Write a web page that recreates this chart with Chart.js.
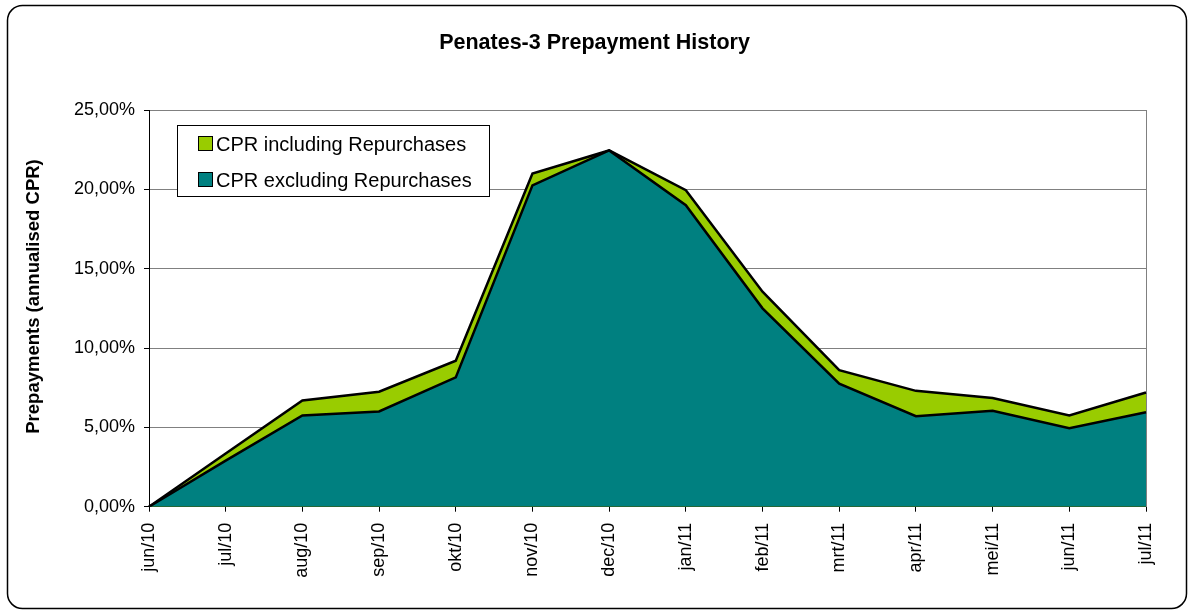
<!DOCTYPE html>
<html>
<head>
<meta charset="utf-8">
<script src="https://cdn.jsdelivr.net/npm/chart.js@4/dist/chart.umd.min.js"></script>
<style>
  body { margin: 0; background: #fff; }
  #wrap { width: 1189px; height: 612px; }
</style>
</head>
<body>
<div id="wrap"><canvas id="myChart" width="1189" height="612"></canvas></div>
<script>
let months = ["jun/10","jul/10","aug/10","sep/10","okt/10","nov/10","dec/10","jan/11","feb/11","mrt/11","apr/11","mei/11","jun/11","jul/11"];
let cprIncl = [0, 3.35, 6.7, 7.25, 9.2, 21.0, 22.45, 19.95, 13.55, 8.6, 7.3, 6.85, 5.75, 7.2];
let cprExcl = [0, 2.9, 5.75, 6.0, 8.15, 20.25, 22.45, 19.0, 12.5, 7.75, 5.7, 6.05, 4.95, 5.95];
let yTicks = [0, 5, 10, 15, 20, 25];
let yTitle = "Prepayments (annualised CPR)";

let fontFamily = "Arial, 'Liberation Sans', sans-serif";

function pct(v){
    return v.toFixed(2).replace(".", ",") + "%";
}

// white background + rounded outer frame, y title and legend box
let frame = {
    id: "frame",
    beforeDraw(chart){
        let c = chart.ctx;
        c.save();
        c.fillStyle = "#fff";
        c.fillRect(0, 0, chart.width, chart.height);
        c.beginPath();
        c.roundRect(7.5, 5.5, 1179, 603, 15);
        c.lineWidth = 1.5;
        c.strokeStyle = "#000";
        c.stroke();

        // axis title sits a bit above the middle of the plot, like the original
        c.translate(34, 296.5);
        c.rotate(-Math.PI / 2);
        c.font = "bold 18.5px " + fontFamily;
        c.fillStyle = "#000";
        c.textAlign = "center";
        c.textBaseline = "middle";
        c.fillText(yTitle, 0, 0);
        c.restore();
    },
    afterDraw(chart){
        let c = chart.ctx;
        let ds = chart.data.datasets;
        c.save();
        c.fillStyle = "#fff";
        c.fillRect(177.5, 125.5, 312, 71);
        c.strokeStyle = "#000";
        c.lineWidth = 1;
        c.strokeRect(177.5, 125.5, 312, 71);
        c.font = "20px " + fontFamily;
        c.textBaseline = "middle";
        for(let i = 0; i < ds.length; i++){
            let y = 144 + i * 36;
            c.fillStyle = ds[i].backgroundColor;
            c.fillRect(198.5, y - 7.5, 14, 14);
            c.strokeRect(198.5, y - 7.5, 14, 14);
            c.fillStyle = "#000";
            c.fillText(ds[i].label, 216, y + 1);
        }
        c.restore();
    }
};

let ctx = document.getElementById("myChart").getContext("2d");
let myChart = new Chart(ctx, {
    type: "line",
    data: {
        labels: months,
        datasets: [{
            label: "CPR including Repurchases",
            data: cprIncl,
            backgroundColor: "#99CC00",
            borderColor: "#000",
            borderWidth: 2.5,
            fill: "origin",
            pointRadius: 0,
            tension: 0,
            order: 2
        },{
            label: "CPR excluding Repurchases",
            data: cprExcl,
            backgroundColor: "#008080",
            borderColor: "#000",
            borderWidth: 2.5,
            fill: "origin",
            pointRadius: 0,
            tension: 0,
            order: 1
        }]
    },
    options: {
        responsive: false,
        animation: false,
        layout: { padding: 0 },
        plugins: {
            legend: { display: false },
            tooltip: { enabled: false },
            title: {
                display: true,
                text: "Penates-3 Prepayment History",
                color: "#000",
                font: { family: fontFamily, size: 21.5, weight: "bold", lineHeight: 1.2 },
                padding: { top: 30, bottom: 54.2 }
            }
        },
        scales: {
            x: {
                offset: false,
                grid: { display: true, drawOnChartArea: false, drawTicks: true, tickLength: 5, tickColor: "#000" },
                border: { display: true, color: "#000", width: 1 },
                ticks: {
                    autoSkip: false,
                    minRotation: 90,
                    maxRotation: 90,
                    padding: 11,
                    color: "#000",
                    font: { family: fontFamily, size: 18 }
                },
                afterFit(s){ s.height = 105.3; }
            },
            y: {
                min: 0,
                max: 25,
                afterBuildTicks(s){ s.ticks = yTicks.map(v => ({ value: v })); },
                grid: { color: "#808080", tickLength: 5, tickColor: "#000" },
                border: { display: true, color: "#000", width: 1 },
                ticks: {
                    padding: 9,
                    color: "#000",
                    font: { family: fontFamily, size: 18 },
                    callback: (v) => pct(v)
                },
                afterFit(s){ s.width = 149; }
            },
            y2: {
                position: "right",
                min: 0,
                max: 25,
                grid: { display: false },
                ticks: { display: false },
                border: { display: true, color: "#808080", width: 1 },
                afterFit(s){ s.width = 43; }
            }
        }
    },
    plugins: [frame]
});
</script>
</body>
</html>
